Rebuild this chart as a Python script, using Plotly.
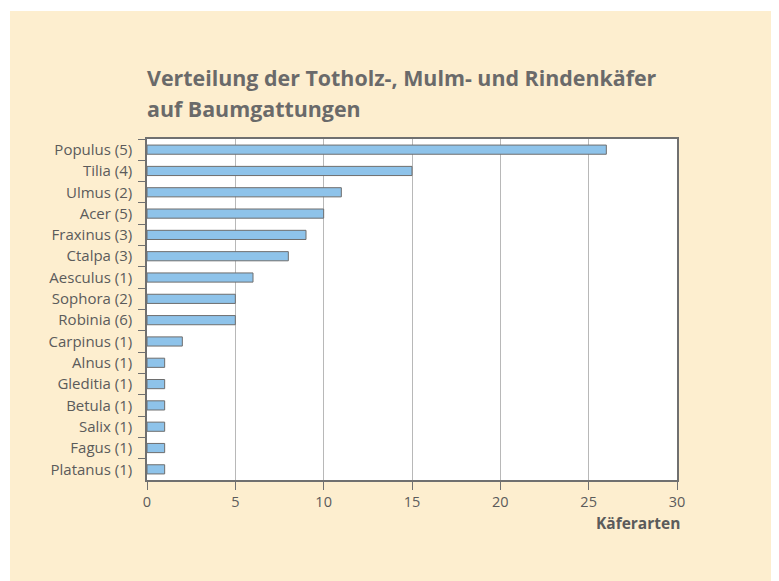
import plotly.graph_objects as go

categories = ["Populus (5)", "Tilia (4)", "Ulmus (2)", "Acer (5)", "Fraxinus (3)", "Ctalpa (3)",
              "Aesculus (1)", "Sophora (2)", "Robinia (6)", "Carpinus (1)", "Alnus (1)",
              "Gleditia (1)", "Betula (1)", "Salix (1)", "Fagus (1)", "Platanus (1)"]
values = [26, 15, 11, 10, 9, 8, 6, 5, 5, 2, 1, 1, 1, 1, 1, 1]
x_ticks = [0, 5, 10, 15, 20, 25, 30]
title_lines = ["Verteilung der Totholz-, Mulm- und Rindenkäfer", "auf Baumgattungen"]
x_title = "Käferarten"

OFF = 8  # page body margin
W, H = 779 - OFF, 581 - OFF
L, R, T, B = 147 - OFF, 677 - OFF, 139 - OFF, 480 - OFF
pw, ph = R - L, B - T

def px(x):
    return (x - OFF - L) / pw

def py(y):
    return (B - (y - OFF)) / ph

FONT = "Open Sans"
TXT = "#5b5b5b"

fig = go.Figure()
fig.add_trace(go.Bar(
    x=values, y=categories, orientation="h", width=0.43,
    marker=dict(color="#8EC3EA", line=dict(color="#6e6e6e", width=1)),
    hoverinfo="x+y",
))

fig.update_layout(
    width=W, height=H,
    margin=dict(l=L, r=W - R, t=T, b=H - B, pad=0),
    paper_bgcolor="white", plot_bgcolor="rgba(0,0,0,0)",
    showlegend=False,
    font=dict(family=FONT, color=TXT, size=14),
    xaxis=dict(range=[0, 30], tickvals=x_ticks, showgrid=True, gridcolor="#b8b8b8", gridwidth=1.3,
               zeroline=False, showline=True, linecolor="#707070", linewidth=1.5, mirror=True,
               ticks="outside", ticklen=8, tickcolor="#707070", tickwidth=1.3,
               tickfont=dict(size=14.5, color=TXT)),
    yaxis=dict(autorange="reversed", showgrid=False, showline=True, linecolor="#707070",
               linewidth=1.5, mirror=True, ticks="outside", tickson="boundaries", ticklen=7,
               tickcolor="#707070", tickwidth=1.3, ticklabelstandoff=10,
               tickfont=dict(size=15, color=TXT)),
    shapes=[
        dict(type="rect", xref="paper", yref="paper", x0=px(10), x1=px(785), y0=py(590), y1=py(11),
             fillcolor="#FDEECF", line=dict(width=0), layer="below"),
        dict(type="rect", xref="paper", yref="paper", x0=0, x1=1, y0=0, y1=1,
             fillcolor="white", line=dict(width=0), layer="below"),
    ],
    annotations=[
        dict(text="<b>%s</b>" % title_lines[0], xref="paper", yref="paper", x=px(145), y=py(78),
             xanchor="left", yanchor="middle", showarrow=False, font=dict(size=21.4, color="#6a6a6a")),
        dict(text="<b>%s</b>" % title_lines[1], xref="paper", yref="paper", x=px(145), y=py(108),
             xanchor="left", yanchor="middle", showarrow=False, font=dict(size=21.4, color="#6a6a6a")),
        dict(text="<b>%s</b>" % x_title, xref="paper", yref="paper", x=px(682), y=py(523),
             xanchor="right", yanchor="middle", showarrow=False, font=dict(size=15.5, color=TXT)),
    ],
)

fig.write_html("out.html")
